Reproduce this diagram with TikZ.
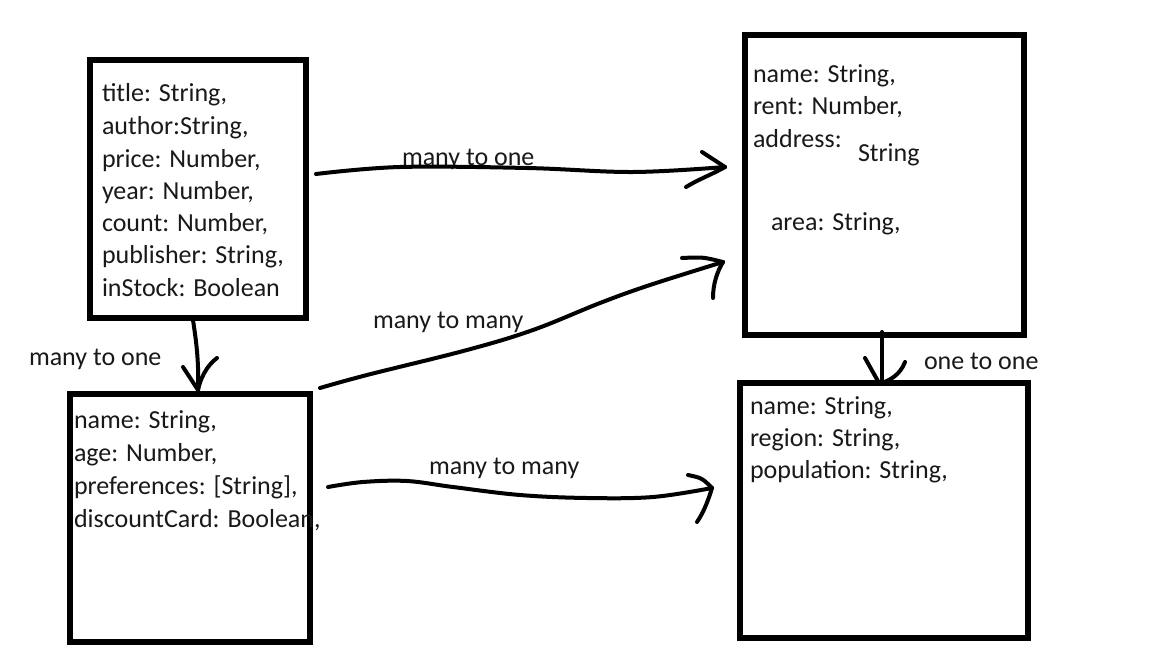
\documentclass[tikz,border=0pt]{standalone}
\usepackage{fontspec}
\setmainfont{Carlito}
\begin{document}
\begin{tikzpicture}[x=1pt,y=-1pt,
  box/.style={draw=black, line width=6pt, inner sep=0pt, outer sep=0pt, rectangle, fill=none},
  conn/.style={draw=black, line width=4pt, line cap=round, line join=round},
  txt/.style={anchor=base west, inner sep=0pt, outer sep=0pt, yshift=-2pt, font=\fontsize{26}{32}\selectfont, text=black!90}]
\useasboundingbox[fill=white] (0,0) rectangle (1162,661);

% entity boxes
\node[box, minimum width=216pt, minimum height=258pt] (A) at (198,189) {};
\node[box, minimum width=240pt, minimum height=248pt] (B) at (190,518) {};
\node[box, minimum width=279pt, minimum height=300pt] (C) at (884.5,185) {};
\node[box, minimum width=288pt, minimum height=255pt] (D) at (884,510.5) {};

% box A text
\node[txt] (a1) at (102,100) {title: String,};
\node[txt] (a2) at (102,132) {author:String,};
\node[txt] (a3) at (102,165) {price: Number,};
\node[txt] (a4) at (102,197) {year: Number,};
\node[txt] (a5) at (102,229) {count: Number,};
\node[txt] (a6) at (102,261) {publisher: String,};
\node[txt] (a7) at (102,294) {inStock: Boolean};

% box B text
\node[txt] (b1) at (74,426) {name: String,};
\node[txt] (b2) at (74,459) {age: Number,};
\node[txt] (b3) at (74,492) {preferences: [String],};
\node[txt] (b4) at (74,525) {discountCard: Boolean,};

% box C text
\node[txt] (c1) at (753,80) {name: String,};
\node[txt] (c2) at (753,112) {rent: Number,};
\node[txt] (c3) at (753,145) {address:};
\node[txt] (c4) at (858,159) {String};
\node[txt] (c5) at (771,228) {area: String,};

% box D text
\node[txt] (d1) at (750,412) {name: String,};
\node[txt] (d2) at (750,444) {region: String,};
\node[txt] (d3) at (750,476) {population: String,};

% labels
\node[txt] (l1) at (402,163) {many to one};
\node[txt] (l2) at (373,326) {many to many};
\node[txt] (l3) at (29,363) {many to one};
\node[txt] (l4) at (924,367) {one to one};
\node[txt] (l5) at (429,472) {many to many};

% connector A -> C (many to one)
\coordinate (s1) at ([shift={(10,-15)}]A.east);
\coordinate (t1) at ([shift={(-20,-18)}]C.west);
\draw[conn] plot[smooth, tension=0.6] coordinates {(s1) (400,167) (527,168) (633,172) (t1)};
\draw[conn] ([shift={(-23,-15)}]t1) .. controls ([shift={(-12,-8)}]t1) .. (t1);
\draw[conn] (t1) .. controls ([shift={(-14,8)}]t1) and ([shift={(-26,12)}]t1) .. ([shift={(-39,20)}]t1);

% connector B -> C (many to many)
\coordinate (s2) at ([shift={(10,-6)}]B.north east);
\coordinate (t2) at ([shift={(-22,77)}]C.west);
\draw[conn] plot[smooth, tension=0.6] coordinates {(s2) (367,375) (467,350) (533,330) (600,303) (650,285) (t2)};
\draw[conn] ([shift={(-41,-4)}]t2) .. controls ([shift={(-20,-5)}]t2) .. (t2);
\draw[conn] (t2) .. controls ([shift={(-6,10)}]t2) and ([shift={(-10,22)}]t2) .. ([shift={(-10,36)}]t2);

% connector A -> B (many to one)
\coordinate (s3) at ([shift={(-5,2)}]A.south);
\coordinate (t3) at ([shift={(8,-4)}]B.north);
\draw[conn] (s3) .. controls (196,340) and (199,360) .. (t3);
\draw[conn] ([shift={(-15,-23)}]t3) .. controls ([shift={(-8,-12)}]t3) .. (t3);
\draw[conn] ([shift={(19,-32)}]t3) .. controls ([shift={(8,-24)}]t3) and ([shift={(2,-10)}]t3) .. (t3);

% connector C -> D (one to one)
\coordinate (s4) at ([shift={(-2.5,-3)}]C.south);
\coordinate (t4) at ([shift={(-2,0)}]D.north);
\draw[conn] (s4) -- (t4);
\draw[conn] ([shift={(-17,-25)}]t4) .. controls ([shift={(-10,-12)}]t4) .. ([shift={(-3,0)}]t4);
\draw[conn] ([shift={(23,-21)}]t4) .. controls ([shift={(18,-8)}]t4) and ([shift={(8,-3)}]t4) .. (t4);

% connector B -> D (many to many)
\coordinate (s5) at ([shift={(18,-31)}]B.east);
\coordinate (t5) at ([shift={(-28,-22.5)}]D.west);
\draw[conn] plot[smooth, tension=0.6] coordinates {(s5) (363,482) (407,481) (453,487) (520,495) (587,498) (653,497) (t5)};
\draw[conn] ([shift={(-24,-13)}]t5) .. controls ([shift={(-10,-10)}]t5) .. (t5);
\draw[conn] (t5) .. controls ([shift={(-3,10)}]t5) and ([shift={(-8,24)}]t5) .. ([shift={(-15,34)}]t5);
\end{tikzpicture}
\end{document}
